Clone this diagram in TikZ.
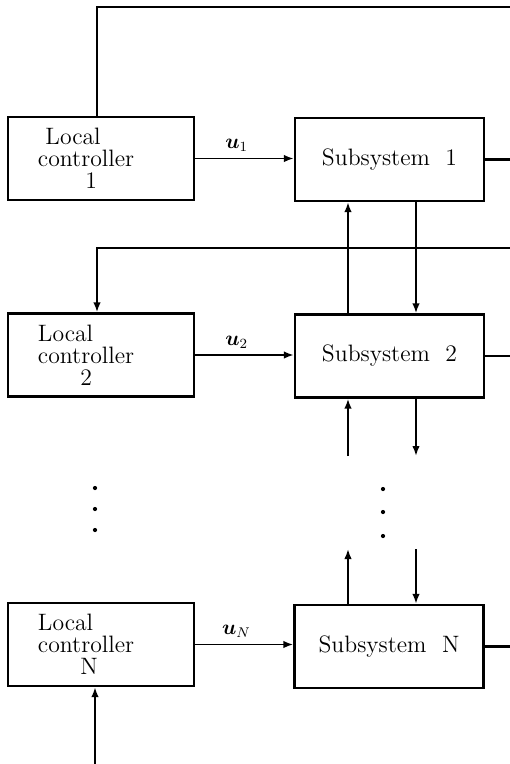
\documentclass[tikz,border=0pt]{standalone}
\usepackage{amsmath}
\usepackage{fontspec}
\usetikzlibrary{arrows.meta}
\newcommand{\spaced}{\fontsize{13.5}{12.6}\selectfont\addfontfeatures{LetterSpace=12}}

\begin{document}
\begin{tikzpicture}[x=0.2mm, y=-0.2mm, >={Latex[length=2mm,width=1.5mm]},
    ctrl/.style={rectangle, draw, line width=1.3pt, minimum height=16.6mm, inner xsep=6mm, text width=25.2mm, align=left, font=\spaced},
    sub/.style={rectangle, draw, line width=1.3pt, minimum width=37.8mm, minimum height=16.6mm, font=\spaced},
    edge/.style={->, line width=1.1pt},
    wire/.style={line width=1.3pt},
    ulabel/.style={above, pos=0.42, font=\fontsize{12}{14}\selectfont}]

\useasboundingbox (0,0) rectangle (510,764);

% controllers and subsystems
\node [ctrl] (lc1) at (101,158.5) {\hspace*{1.5mm}Local\\controller\\\hspace*{9.5mm}1};
\node [sub] (s1) at (389.5,159.5) {Subsystem\ \ 1};
\node [ctrl] (lc2) at (101,355) {Local\\controller\\\hspace*{8.5mm}2};
\node [sub] (s2) at (389.5,356) {Subsystem\ \ 2};
\node [ctrl] (lcN) at (101,644.5) {Local\\controller\\\hspace*{8.5mm}N};
\node [sub] (sN) at (389,646.5) {Subsystem\ \ N};

\coordinate (fb) at (97,0);
\coordinate (rim) at (510,0);
\coordinate (top) at (0,7);
\coordinate (bus) at (0,248);
\coordinate (up) at (348,0);
\coordinate (dn) at (416,0);
\coordinate (gap1) at (0,456);
\coordinate (gap2) at (0,549);
\coordinate (bot) at (95,764);

% control inputs
\draw [edge] (lc1.east) -- node[ulabel] {$\boldsymbol{u}_1$} (lc1.east -| s1.west);
\draw [edge] (lc2.east) -- node[ulabel] {$\boldsymbol{u}_2$} (lc2.east -| s2.west);
\draw [edge] (lcN.east) -- node[ulabel] {$\boldsymbol{u}_N$} (lcN.east -| sN.west);

% outputs and feedback lines
\draw [wire] (lc1.north -| fb) |- (rim |- top);
\draw [wire] (s1.east) -- (s1.east -| rim);
\draw [wire] (s2.east) -- (s2.east -| rim);
\draw [wire] (sN.east) -- (sN.east -| rim);
\draw [edge] (rim |- bus) -| (lc2.north -| fb);
\draw [edge] (bot) -- (lcN.south -| bot);

% interconnections
\draw [edge] (s2.north -| up) -- (s1.south -| up);
\draw [edge] (s1.south -| dn) -- (s2.north -| dn);
\draw [edge] (up |- gap1) -- (s2.south -| up);
\draw [edge] (s2.south -| dn) -- (dn |- gap1);
\draw [edge] (sN.north -| up) -- (up |- gap2);
\draw [edge] (dn |- gap2) -- (sN.north -| dn);

\foreach \y in {489,512,536} \fill (383,\y) circle (1.2pt);
\foreach \y in {488,509,530} \fill (95,\y) circle (1.2pt);

\end{tikzpicture}
\end{document}
